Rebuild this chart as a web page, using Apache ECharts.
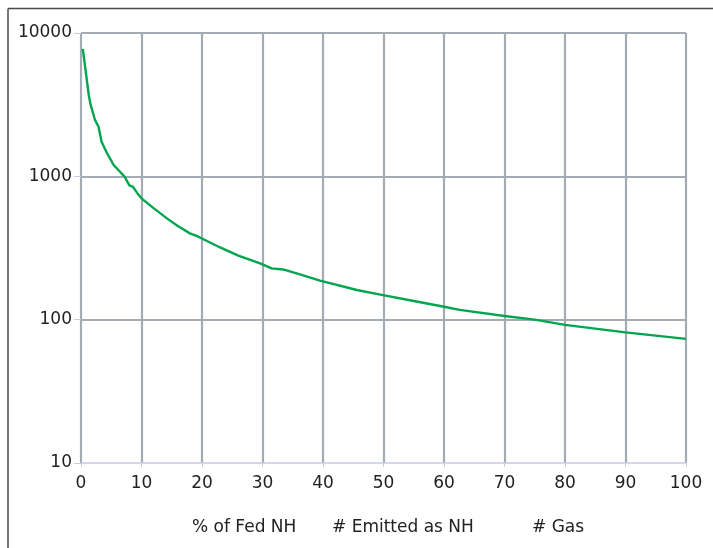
<!DOCTYPE html>
<html>
<head>
<meta charset="utf-8">
<script src="https://cdn.jsdelivr.net/npm/echarts@6/dist/echarts.min.js"></script>
<style>
html,body{margin:0;padding:0;background:#fff;}
#chart{width:713px;height:548px;}
</style>
</head>
<body>
<div id="chart"></div>
<script>
// Data
var xValues = [0.3, 1.3, 1.6, 1.6, 2.3, 2.9, 3.4, 4.3, 5.4, 7.2, 8.0, 8.6, 9.3, 10, 12, 14.2, 16, 18, 19.4, 23, 26, 29.6, 31.5, 33.4, 36.2, 39.5, 45.6, 49.7, 55, 59.6, 62.6, 70, 75, 80, 90, 100];
var yValues = [7750, 3650, 3650, 3150, 2480, 2220, 1740, 1450, 1200, 995, 864, 845, 763, 702, 600, 509, 450, 400, 379, 319, 280, 247, 228, 224, 207, 187, 161, 149, 135, 124, 117, 106, 100, 92, 81.5, 73.5];
var legendNames = ['% of Fed NH', '# Emitted as NH', '# Gas'];
var xTicks = [0, 100, 10];
var yRange = [10, 10000];

var seriesData = xValues.map(function (x, i) { return [x, yValues[i]]; });

var FONT = 'DejaVu Sans';
var chart = echarts.init(document.getElementById('chart'));
chart.setOption({
  animation: false,
  backgroundColor: '#ffffff',
  grid: { left: 81, right: 27, top: 33, bottom: 85 },
  xAxis: {
    type: 'value', min: xTicks[0], max: xTicks[1], interval: xTicks[2],
    axisLine: { show: true, lineStyle: { color: '#c9c9e3', width: 1.5 } },
    axisTick: { show: true, length: 4, lineStyle: { color: '#c9c9e3' } },
    axisLabel: { color: '#222', fontFamily: FONT, fontSize: 17, margin: 12 },
    splitLine: { show: true, showMinLine: true, showMaxLine: true, lineStyle: { color: '#a5abb2', width: 2.2 } }
  },
  yAxis: {
    type: 'log', logBase: 10, min: yRange[0], max: yRange[1],
    axisLine: { show: false },
    axisTick: { show: true, length: 7, lineStyle: { color: '#c9c9e3' } },
    axisLabel: { color: '#222', fontFamily: FONT, fontSize: 17, margin: 9,
      formatter: function (v) { return String(Math.round(v)); } },
    splitLine: { show: true, showMinLine: false, showMaxLine: true, lineStyle: { color: '#a5abb2', width: 2.2 } }
  },
  series: [{
    name: legendNames[0],
    type: 'line',
    data: seriesData,
    showSymbol: false,
    symbol: 'none',
    lineStyle: { color: '#00a550', width: 2.4 },
    z: 5
  }],
  graphic: [
    { type: 'line', shape: { x1: 8, y1: 8.5, x2: 713, y2: 8.5 }, style: { stroke: '#4a4a4a', lineWidth: 1.5 } },
    { type: 'line', shape: { x1: 8, y1: 8.5, x2: 8, y2: 548 }, style: { stroke: '#4a4a4a', lineWidth: 1.5 } },
    { type: 'text', left: 192, top: 519, style: { text: legendNames[0], fill: '#222', font: '17px "DejaVu Sans"' } },
    { type: 'text', left: 332, top: 519, style: { text: legendNames[1], fill: '#222', font: '17px "DejaVu Sans"' } },
    { type: 'text', left: 532, top: 519, style: { text: legendNames[2], fill: '#222', font: '17px "DejaVu Sans"' } }
  ]
});
</script>
</body>
</html>
